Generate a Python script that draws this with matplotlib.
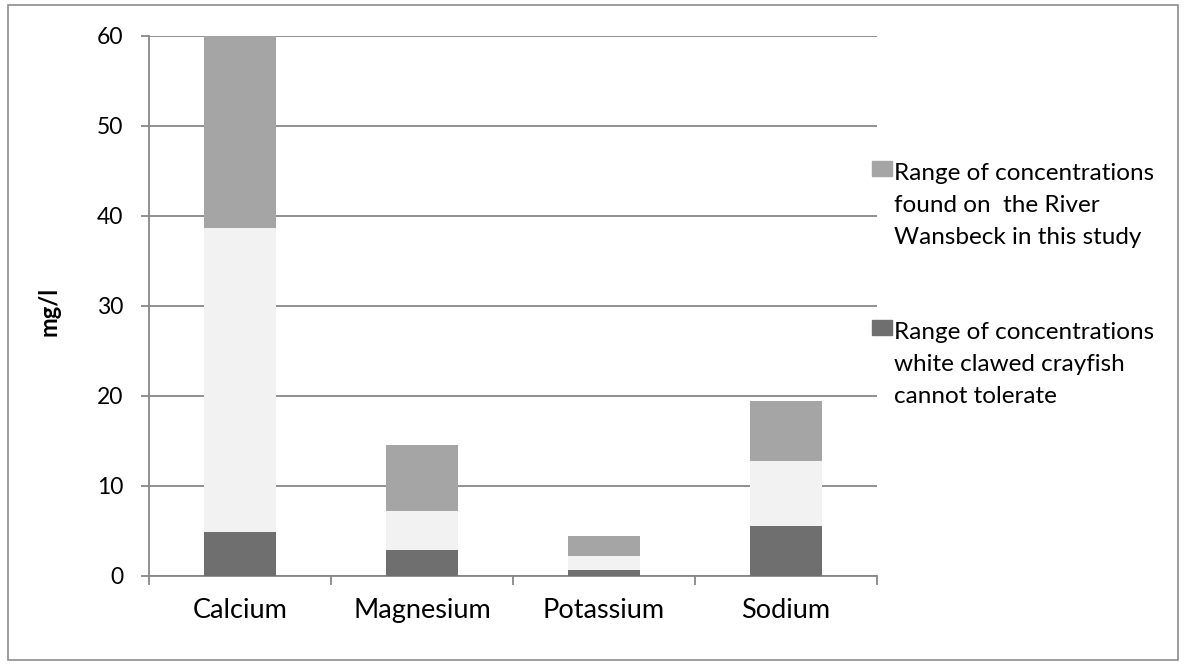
import matplotlib
matplotlib.use("Agg")
import matplotlib.pyplot as plt
import numpy as np
from matplotlib.patches import Rectangle

plt.rcParams['font.family'] = ['Lato', 'DejaVu Sans']

# data (mg/l)
minerals = ["Calcium", "Magnesium", "Potassium", "Sodium"]
cannot_tolerate = [4.9, 2.9, 0.7, 5.6]      # dark band, from 0
found_low = [38.7, 7.2, 2.2, 12.8]           # bottom of range found in study
found_high = [60.0, 14.6, 4.4, 19.4]         # top of range found in study

label_found = "Range of concentrations\nfound on  the River\nWansbeck in this study"
label_tol = "Range of concentrations\nwhite clawed crayfish\ncannot tolerate"

c_dark = "#6f6f6f"
c_gap = "#f2f2f2"
c_mid = "#a5a5a5"
c_grid = "#878787"

tol = np.array(cannot_tolerate)
lo = np.array(found_low)
hi = np.array(found_high)
x = np.arange(len(minerals)) + 0.5

W, H = 1188, 666
fig = plt.figure(figsize=(W / 100, H / 100), dpi=100)
ax = fig.add_axes([149 / W, 1 - 576 / H, 728 / W, 540 / H])

ax.bar(x, tol, width=0.4, color=c_dark, zorder=3)
ax.bar(x, lo - tol, bottom=tol, width=0.4, color=c_gap, zorder=3)
ax.bar(x, hi - lo, bottom=lo, width=0.4, color=c_mid, zorder=3)

ax.set_xlim(0, 4)
ax.set_ylim(0, 60)
ax.set_yticks(np.arange(0, 61, 10))
ax.yaxis.grid(True, color=c_grid, linewidth=1.3, zorder=0)
ax.set_axisbelow(True)

ax.set_xticks(np.arange(0, 5))
ax.set_xticklabels([])
ax.set_xticks(x, minor=True)
ax.set_xticklabels(minerals, minor=True, fontsize=19.5)
ax.tick_params(axis='x', which='major', length=6.5, width=1.3, color=c_grid, direction='out')
ax.tick_params(axis='x', which='minor', length=0, pad=16)
ax.tick_params(axis='y', length=5.8, width=1.3, color=c_grid, pad=12.5, labelsize=16.5)

for s in ['top', 'right']:
    ax.spines[s].set_visible(False)
for s in ['left', 'bottom']:
    ax.spines[s].set_color(c_grid)
    ax.spines[s].set_linewidth(1.3)

ax.set_ylabel("mg/l", fontsize=17, fontweight='bold')
ax.yaxis.set_label_coords((61 - 149) / 728, 0.49)

# legend drawn by hand so the swatch sits on the first text line
for col, lab, base in [(c_mid, label_found, 180), (c_dark, label_tol, 339)]:
    fig.patches.append(Rectangle((872 / W, 1 - (base - 4) / H), 20 / W, 15 / H,
                                 transform=fig.transFigure, color=col))
    for i, line in enumerate(lab.split("\n")):
        fig.text(894 / W, 1 - (base + 32 * i) / H, line, fontsize=17.5,
                 va='baseline', ha='left')

# outer frame
fig.patches.append(Rectangle((8 / W, 6 / H), 1170 / W, 655 / H,
                             transform=fig.transFigure, fill=False, edgecolor="#8c8c8c",
                             linewidth=1.2))

fig.savefig("out.png", dpi=100)
